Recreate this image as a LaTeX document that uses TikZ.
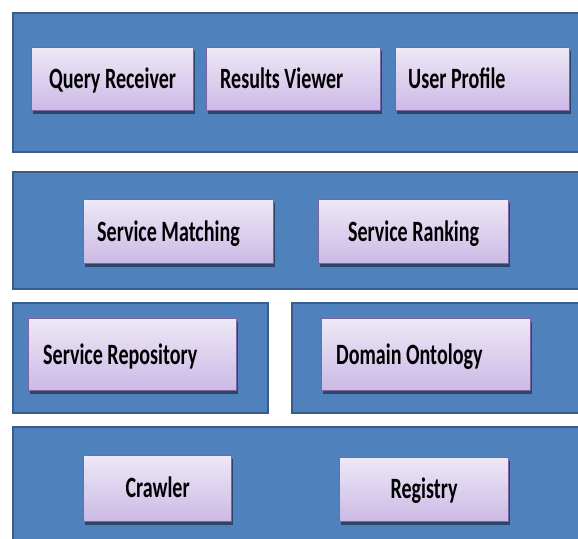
\documentclass[tikz,border=0pt]{standalone}
\usepackage{fontspec}
\setmainfont{Carlito}
\newfontfamily\boxfont[FakeStretch=0.68]{Carlito}
\usetikzlibrary{shadows}
\definecolor{bandblue}{RGB}{79,129,189}
\definecolor{bandedge}{RGB}{56,93,138}
\definecolor{boxtop}{RGB}{238,232,247}
\definecolor{boxbot}{RGB}{203,185,229}
\definecolor{boxedge}{RGB}{128,100,162}
\tikzset{
  band/.style={fill=bandblue, draw=bandedge, line width=2pt},
  comp/.style={anchor=north west, inner sep=0pt, top color=boxtop, bottom color=boxbot,
    draw=boxedge, line width=1.2pt,
    drop shadow={shadow xshift=1.5pt, shadow yshift=-3pt, opacity=0.45, fill=black}},
  lbl/.style={font=\boxfont\bfseries\fontsize{29.5}{30}\selectfont, inner sep=0pt, text=black},
  lblw/.style={lbl, anchor=base west},
  lblc/.style={lbl, anchor=base}
}
\begin{document}
\begin{tikzpicture}[x=1pt, y=-1pt]
\clip (0,0) rectangle (578,538);
\fill[white] (0,0) rectangle (578,538);
% bands
\draw[band] (13,13) rectangle (600,152);
\draw[band] (13,172) rectangle (600,289);
\draw[band] (13,303) rectangle (268,413);
\draw[band] (292,303) rectangle (600,413);
\draw[band] (13,427) rectangle (600,560);
% component boxes
\node[comp, minimum width=162pt, minimum height=63pt] (qr) at (31,47) {};
\node[comp, minimum width=174pt, minimum height=63pt] (rv) at (206,47) {};
\node[comp, minimum width=174pt, minimum height=63pt] (up) at (395,47) {};
\node[comp, minimum width=190pt, minimum height=64pt] (sm) at (83,199) {};
\node[comp, minimum width=190pt, minimum height=64pt] (sr) at (318,199) {};
\node[comp, minimum width=208pt, minimum height=72pt] (repo) at (28,318) {};
\node[comp, minimum width=209pt, minimum height=72pt] (onto) at (321,318) {};
\node[comp, minimum width=148pt, minimum height=66pt] (crawl) at (83,455) {};
\node[comp, minimum width=169pt, minimum height=64pt] (reg) at (339,457) {};
% labels
\node[lblc] (tqr) at ([yshift=-9.5pt]qr.center) {Query Receiver};
\node[lblw] (trv) at ([xshift=14pt, yshift=-9.5pt]rv.west) {Results Viewer};
\node[lblw] (tup) at ([xshift=13pt, yshift=-9.5pt]up.west) {User Profile};
\node[lblw] (tsm) at ([xshift=14pt, yshift=-10pt]sm.west) {Service Matching};
\node[lblc] (tsr) at ([yshift=-10pt]sr.center) {Service Ranking};
\node[lblw] (trepo) at ([xshift=15pt, yshift=-9.5pt]repo.west) {Service Repository};
\node[lblw] (tonto) at ([xshift=15pt, yshift=-9.5pt]onto.west) {Domain Ontology};
\node[lblc] (tcrawl) at ([yshift=-8.5pt]crawl.center) {Crawler};
\node[lblc] (treg) at ([yshift=-8.5pt]reg.center) {Registry};
\end{tikzpicture}
\end{document}
